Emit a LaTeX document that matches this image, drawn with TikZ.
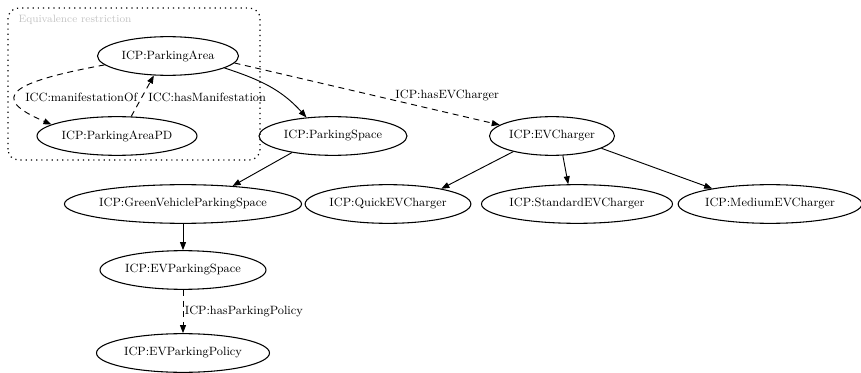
\documentclass[tikz,border=0pt]{standalone}
\usepackage{tikz}
\usetikzlibrary{shapes,arrows.meta,positioning}
\definecolor{clustergray}{HTML}{C4C4C4}

\begin{document}
\begin{tikzpicture}[x=0.75pt, y=0.75pt,
  cls/.style={ellipse, draw, line width=0.8pt, minimum width=#1*0.75pt, minimum height=29pt, inner sep=0pt, font=\small},
  arr/.style={-{Triangle[length=6pt,width=4.5pt]}, line width=0.7pt},
  prop/.style={arr, dash pattern=on 4.5pt off 3.5pt},
  lbl/.style={font=\small, inner sep=1pt}
]
  \useasboundingbox (0,0) rectangle (861,372);

  \draw[line width=0.9pt, dash pattern=on 0.9pt off 3pt, rounded corners=8pt] (8,212) rectangle (260,364);
  \node[font=\footnotesize, text=clustergray, anchor=west, inner sep=1pt] (eqLabel) at (17,352) {Equivalence restriction};

  \node[cls=141] (parkingArea) at (168,316) {ICP:ParkingArea};
  \node[cls=160] (parkingAreaPD) at (117,236) {ICP:ParkingAreaPD};
  \node[cls=148] (parkingSpace) at (333,236) {ICP:ParkingSpace};
  \node[cls=125] (evCharger) at (552,236) {ICP:EVCharger};
  \node[cls=234] (greenSpace) at (183,168) {ICP:GreenVehicleParkingSpace};
  \node[cls=162] (quickCharger) at (388,168) {ICP:QuickEVCharger};
  \node[cls=180] (standardCharger) at (577,168) {ICP:StandardEVCharger};
  \node[cls=174] (mediumCharger) at (770,168) {ICP:MediumEVCharger};
  \node[cls=166] (evSpace) at (183,102) {ICP:EVParkingSpace};
  \node[cls=173] (evPolicy) at (183,19) {ICP:EVParkingPolicy};

  \draw[prop] (parkingArea.188) .. controls (12,290) and (-13,275) .. (parkingAreaPD.170)
    node[lbl, pos=0.55, anchor=west, xshift=5pt, yshift=-3pt] {ICC:manifestationOf};
  \draw[prop] (parkingAreaPD.54) -- node[lbl, anchor=west, xshift=3pt, yshift=-1pt] {ICC:hasManifestation} (parkingArea.234);
  \draw[arr] (parkingArea.348) to[out=-18, in=132] (parkingSpace.145);
  \draw[prop] (parkingArea.-6) -- node[lbl, pos=0.6, anchor=south west, yshift=-2pt] {ICP:hasEVCharger} (evCharger.168);
  \draw[arr] (parkingSpace.202) -- (greenSpace.20);
  \draw[arr] (evCharger.202) -- (quickCharger.16);
  \draw[arr] (evCharger.299) -- (standardCharger.114);
  \draw[arr] (evCharger.346) -- (mediumCharger.165);
  \draw[arr] (greenSpace) -- (evSpace);
  \draw[prop] (evSpace) -- node[lbl, anchor=west] {ICP:hasParkingPolicy} (evPolicy);
\end{tikzpicture}
\end{document}
